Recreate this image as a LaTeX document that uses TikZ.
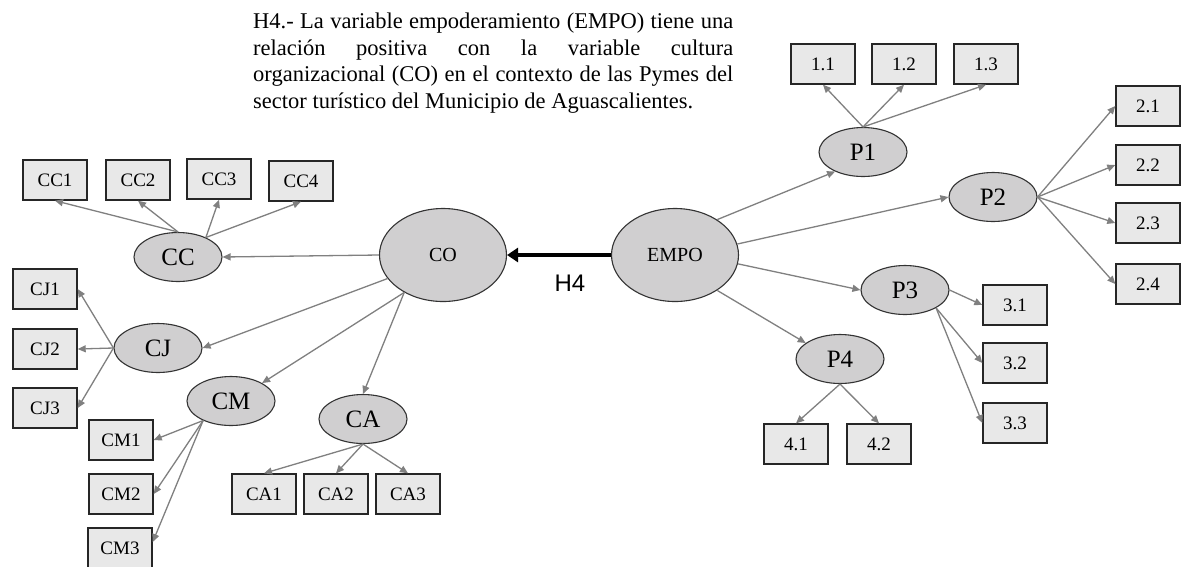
\documentclass[tikz,border=0pt]{standalone}
\usepackage{fontspec}
\setmainfont{Liberation Serif}
\newfontfamily\labelsans{Liberation Sans}
\usetikzlibrary{shapes.geometric,arrows.meta}
\definecolor{latentfill}{HTML}{D0CFD0}
\definecolor{itemfill}{HTML}{E8E8E8}
\definecolor{pathgray}{HTML}{808080}
\begin{document}
\begin{tikzpicture}[x=1pt,y=-1pt,
  item/.style={draw=black!85,line width=1.4pt,fill=itemfill,minimum width=64pt,minimum height=40pt,inner sep=0pt,font=\fontsize{19}{19}\selectfont},
  latent/.style={ellipse,draw=black!80,line width=1.1pt,fill=latentfill,minimum width=88pt,minimum height=49pt,inner sep=0pt,font=\fontsize{25}{25}\selectfont},
  construct/.style={ellipse,draw=black!80,line width=1.1pt,fill=latentfill,minimum width=127pt,minimum height=93pt,inner sep=0pt,font=\fontsize{20}{20}\selectfont},
  load/.style={draw=pathgray,line width=1.3pt,-{Triangle[length=8pt,width=7pt]}},
  hypo/.style={draw=black,line width=4pt,-{Triangle[length=11pt,width=14pt]}}
]
\useasboundingbox[fill=white] (0,0) rectangle (1182,566);

% hypothesis statement
\node[anchor=north west,inner sep=0pt,align=left,font=\fontsize{22.5}{26.7}\selectfont] (stmt) at (253,12.5)
 {\makebox[480pt][s]{H4.- La variable empoderamiento (EMPO) tiene una}\\
  \makebox[480pt][s]{relación positiva con la variable cultura}\\
  \makebox[480pt][s]{organizacional (CO) en el contexto de las Pymes del}\\
  sector turístico del Municipio de Aguascalientes.};

% main constructs
\node[construct] (co) at (443,255) {CO};
\node[construct] (empo) at (675,255) {EMPO};
\draw[hypo] (empo.west) -- (co.east);
\node[font=\labelsans\fontsize{24}{24}\selectfont] (h4) at (570,283) {H4};

% dimensions of CO
\node[latent] (cc) at (178,257) {CC};
\node[latent] (cj) at (158,348) {CJ};
\node[latent] (cm) at (231,401) {CM};
\node[latent] (ca) at (363,419) {CA};

% dimensions of EMPO
\node[latent] (p1) at (863,152) {P1};
\node[latent] (p2) at (993,197) {P2};
\node[latent] (p3) at (905,290) {P3};
\node[latent] (p4) at (840,359) {P4};

% indicators of CO dimensions
\node[item] (cc1) at (55,180) {CC1};
\node[item] (cc2) at (138,180) {CC2};
\node[item] (cc3) at (219,179) {CC3};
\node[item] (cc4) at (301,181) {CC4};
\node[item] (cj1) at (45,289) {CJ1};
\node[item] (cj2) at (45,349) {CJ2};
\node[item] (cj3) at (45,408) {CJ3};
\node[item] (cm1) at (121,440) {CM1};
\node[item] (cm2) at (121,494) {CM2};
\node[item] (cm3) at (120,548) {CM3};
\node[item] (ca1) at (264,494) {CA1};
\node[item] (ca2) at (336,494) {CA2};
\node[item] (ca3) at (408,494) {CA3};

% indicators of EMPO dimensions
\node[item] (i11) at (823,64) {1.1};
\node[item] (i12) at (904,64) {1.2};
\node[item] (i13) at (986,64) {1.3};
\node[item] (i21) at (1148,106) {2.1};
\node[item] (i22) at (1148,165) {2.2};
\node[item] (i23) at (1148,223) {2.3};
\node[item] (i24) at (1148,284) {2.4};
\node[item] (i31) at (1015,305) {3.1};
\node[item] (i32) at (1015,363) {3.2};
\node[item] (i33) at (1015,423) {3.3};
\node[item] (i41) at (796,444) {4.1};
\node[item] (i42) at (879,444) {4.2};

% CO -> dimensions
\draw[load] (co.west) -- (cc.east);
\draw[load] (co.203) -- (cj.east);
\draw[load] (co.224) -- (cm.30);
\draw[load] (co.224) -- (ca.north);

% EMPO -> dimensions
\draw[load] (empo.40) -- (p1.215);
\draw[load] (empo.10) -- (p2.west);
\draw[load] (empo.-8) -- (p3.west);
\draw[load] (empo.-40) -- (p4.155);

% CO dimensions -> indicators
\draw[load] (cc.north) -- (cc1.south);
\draw[load] (cc.north) -- (cc2.south);
\draw[load] (cc.35) -- (cc3.south);
\draw[load] (cc.35) -- (cc4.south);
\draw[load] (cj.west) -- (cj1.east);
\draw[load] (cj.west) -- (cj2.east);
\draw[load] (cj.west) -- (cj3.east);
\draw[load] (cm.215) -- (cm1.east);
\draw[load] (cm.215) -- (cm2.east);
\draw[load] (cm.215) -- ([yshift=6pt]cm3.east);
\draw[load] (ca.south) -- (ca1.north);
\draw[load] (ca.south) -- (ca2.north);
\draw[load] (ca.south) -- (ca3.north);

% EMPO dimensions -> indicators
\draw[load] (p1.north) -- (i11.south);
\draw[load] (p1.north) -- (i12.south);
\draw[load] (p1.north) -- (i13.south);
\draw[load] (p2.east) -- (i21.west);
\draw[load] (p2.east) -- (i22.west);
\draw[load] (p2.east) -- (i23.west);
\draw[load] (p2.east) -- (i24.west);
\draw[load] (p3.east) -- (i31.west);
\draw[load] (p3.-30) -- (i32.west);
\draw[load] (p3.-30) -- (i33.west);
\draw[load] (p4.south) -- (i41.north);
\draw[load] (p4.south) -- (i42.north);
\end{tikzpicture}
\end{document}
